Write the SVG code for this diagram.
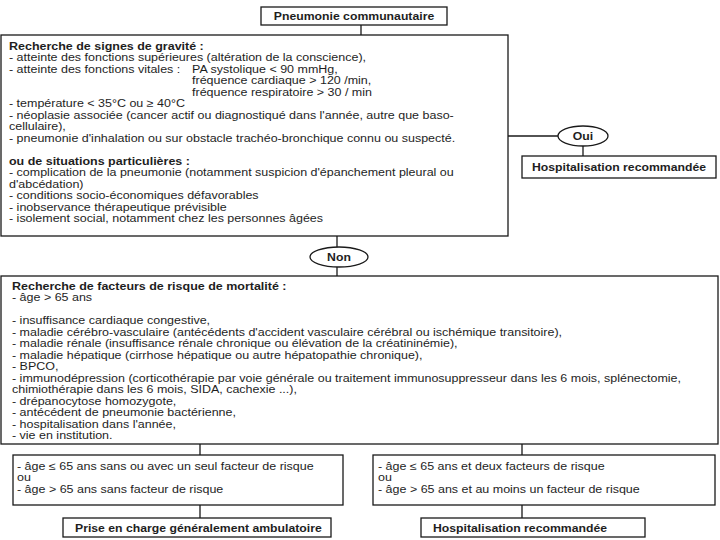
<svg xmlns="http://www.w3.org/2000/svg" width="720" height="540" viewBox="0 0 720 540">
<style>
.box{fill:#fff;stroke:#1a1a1a;stroke-width:1.3}
.t{font-family:"Liberation Sans",Arial,sans-serif;font-size:10.8px;fill:#1e1e1e}
.b{font-weight:bold}
.c{text-anchor:middle}
.ln{stroke:#1a1a1a;stroke-width:1.3;fill:none}
</style>
<rect width="720" height="540" fill="#fff"/>
<g id="connectors">
<line class="ln" x1="361" y1="25" x2="361" y2="35"/>
<line class="ln" x1="508" y1="136" x2="558" y2="136"/>
<line class="ln" x1="583" y1="146" x2="583" y2="156"/>
<line class="ln" x1="337" y1="236" x2="337" y2="247"/>
<line class="ln" x1="337" y1="267" x2="337" y2="276"/>
<line class="ln" x1="200" y1="444" x2="200" y2="455"/>
<line class="ln" x1="522" y1="444" x2="522" y2="455"/>
<line class="ln" x1="200" y1="505" x2="200" y2="518"/>
<line class="ln" x1="522" y1="505" x2="522" y2="518"/>
</g>
<g id="n-pneumonie">
<rect class="box" x="261" y="7" width="186" height="18"/>
<g transform="translate(354,0) scale(1.134,1)"><text class="t b c" x="0" y="20.5">Pneumonie communautaire</text></g>
</g>
<g id="n-gravite">
<rect class="box" x="1" y="35" width="507" height="201"/>
<g transform="translate(9,0) scale(1.157,1)">
<text class="t b" x="0" y="50">Recherche de signes de gravité :</text>
<text class="t" x="0" y="61.5">- atteinte des fonctions supérieures (altération de la conscience),</text>
<text class="t" x="0" y="73">- atteinte des fonctions vitales :</text>
<text class="t" x="158.2" y="73">PA systolique &lt; 90 mmHg,</text>
<text class="t" x="158.2" y="84.5">fréquence cardiaque &gt; 120 /min,</text>
<text class="t" x="158.2" y="96">fréquence respiratoire &gt; 30 / min</text>
<text class="t" x="0" y="107.5">- température &lt; 35°C ou ≥ 40°C</text>
<text class="t" x="0" y="119">- néoplasie associée (cancer actif ou diagnostiqué dans l'année, autre que baso-</text>
<text class="t" x="0" y="130.5">cellulaire),</text>
<text class="t" x="0" y="142">- pneumonie d'inhalation ou sur obstacle trachéo-bronchique connu ou suspecté.</text>
<text class="t b" x="0" y="165">ou de situations particulières :</text>
<text class="t" x="0" y="176.5">- complication de la pneumonie (notamment suspicion d'épanchement pleural ou</text>
<text class="t" x="0" y="188">d'abcédation)</text>
<text class="t" x="0" y="199.5">- conditions socio-économiques défavorables</text>
<text class="t" x="0" y="211">- inobservance thérapeutique prévisible</text>
<text class="t" x="0" y="222.5">- isolement social, notamment chez les personnes âgées</text>
</g>
</g>
<g id="n-oui">
<ellipse class="box" cx="583" cy="136" rx="25" ry="10"/>
<g transform="translate(583,0) scale(1.134,1)"><text class="t b c" x="0" y="140">Oui</text></g>
</g>
<g id="n-hosp1">
<rect class="box" x="522" y="156" width="194" height="22"/>
<g transform="translate(619,0) scale(1.134,1)"><text class="t b c" x="0" y="171">Hospitalisation recommandée</text></g>
</g>
<g id="n-non">
<ellipse class="box" cx="339" cy="257" rx="29" ry="10"/>
<g transform="translate(339,0) scale(1.134,1)"><text class="t b c" x="0" y="261">Non</text></g>
</g>
<g id="n-facteurs">
<rect class="box" x="1" y="276" width="717" height="168"/>
<g transform="translate(12,0) scale(1.157,1)">
<text class="t b" x="0" y="290">Recherche de facteurs de risque de mortalité :</text>
<text class="t" x="0" y="301.5">- âge &gt; 65 ans</text>
<text class="t" x="0" y="324.5">- insuffisance cardiaque congestive,</text>
<text class="t" x="0" y="336">- maladie cérébro-vasculaire (antécédents d'accident vasculaire cérébral ou ischémique transitoire),</text>
<text class="t" x="0" y="347.5">- maladie rénale (insuffisance rénale chronique ou élévation de la créatininémie),</text>
<text class="t" x="0" y="359">- maladie hépatique (cirrhose hépatique ou autre hépatopathie chronique),</text>
<text class="t" x="0" y="370.5">- BPCO,</text>
<text class="t" x="0" y="382">- immunodépression (corticothérapie par voie générale ou traitement immunosuppresseur dans les 6 mois, splénectomie,</text>
<text class="t" x="0" y="393.5">chimiothérapie dans les 6 mois, SIDA, cachexie ...),</text>
<text class="t" x="0" y="405">- drépanocytose homozygote,</text>
<text class="t" x="0" y="416.5">- antécédent de pneumonie bactérienne,</text>
<text class="t" x="0" y="428">- hospitalisation dans l'année,</text>
<text class="t" x="0" y="439.5">- vie en institution.</text>
</g>
</g>
<g id="n-critere-gauche">
<rect class="box" x="13" y="455" width="330" height="50"/>
<g transform="translate(17,0) scale(1.157,1)">
<text class="t" x="0" y="470">- âge ≤ 65 ans sans ou avec un seul facteur de risque</text>
<text class="t" x="0" y="481.5">ou</text>
<text class="t" x="0" y="493">- âge &gt; 65 ans sans facteur de risque</text>
</g>
</g>
<g id="n-critere-droite">
<rect class="box" x="373" y="455" width="342" height="50"/>
<g transform="translate(378,0) scale(1.157,1)">
<text class="t" x="0" y="470">- âge ≤ 65 ans et deux facteurs de risque</text>
<text class="t" x="0" y="481.5">ou</text>
<text class="t" x="0" y="493">- âge &gt; 65 ans et au moins un facteur de risque</text>
</g>
</g>
<g id="n-ambulatoire">
<rect class="box" x="63" y="518" width="268" height="19"/>
<g transform="translate(75,0) scale(1.134,1)"><text class="t b" x="0" y="531.8">Prise en charge généralement ambulatoire</text></g>
</g>
<g id="n-hosp2">
<rect class="box" x="421" y="518" width="224" height="19"/>
<g transform="translate(433,0) scale(1.134,1)"><text class="t b" x="0" y="531.8">Hospitalisation recommandée</text></g>
</g>
</svg>
